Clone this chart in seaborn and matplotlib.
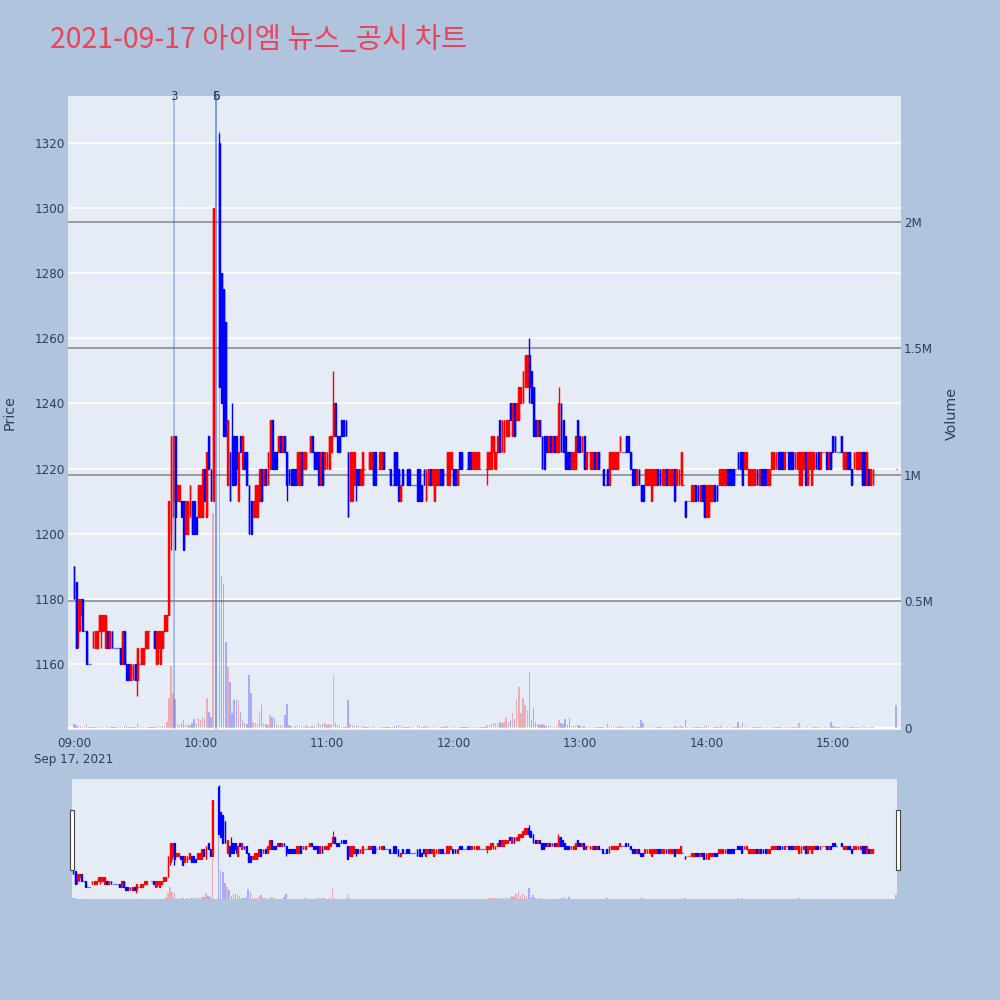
import numpy as np
import pandas as pd
import matplotlib
matplotlib.use("Agg")
import matplotlib.pyplot as plt
from matplotlib.patches import Rectangle
import seaborn as sns

# ---------------- data ----------------
title_text = "2021-09-17 아이엠 뉴스_공시 차트"

# minutes after 09:00 (10:07-10:08 halted, 15:20-15:29 closing auction)
minutes = list(range(0, 67)) + list(range(69, 380)) + [390]

opens = [
    1190,1185,1170,1175,1180,1170,1170,1160,1160,1165,
    1165,1165,1170,1170,1170,1165,1170,1165,1170,1165,
    1165,1165,1165,1160,1170,1160,1160,1155,1155,1160,
    1155,1160,1160,1160,1165,1165,1170,1170,1170,1160,
    1165,1160,1165,1170,1170,1175,1200,1210,1230,1210,
    1210,1210,1210,1200,1200,1205,1210,1210,1205,1205,
    1205,1205,1220,1205,1230,1220,1210,
    1320,1280,1275,1265,1215,1225,1230,1230,1230,1210,
    1230,1220,1225,1225,1215,1210,1205,1205,1205,1210,
    1220,1215,1220,1215,1220,1235,1225,1225,1225,1230,
    1225,1230,1225,1220,1220,1220,1220,1215,1215,1225,
    1220,1220,1225,1225,1230,1225,1225,1225,1215,1225,
    1220,1220,1220,1225,1230,1240,1230,1230,1235,1235,
    1235,1225,1210,1210,1215,1220,1220,1215,1215,1220,
    1220,1220,1220,1225,1225,1220,1220,1220,1225,1220,
    1220,1220,1215,1225,1225,1220,1210,1220,1215,1220,
    1220,1215,1215,1215,1220,1220,1215,1220,1210,1215,
    1220,1215,1210,1215,1215,1220,1220,1215,1215,1215,
    1220,1220,1220,1215,1225,1225,1220,1220,1225,1225,
    1220,1220,1220,1220,1220,1220,1220,1220,1220,1220,
    1225,1220,1225,1235,1225,1225,1230,1230,1240,1230,
    1240,1235,1235,1240,1240,1245,1245,1255,1250,1245,
    1235,1230,1235,1230,1230,1230,1225,1230,1225,1230,
    1225,1225,1240,1235,1230,1225,1225,1220,1220,1220,
    1235,1230,1225,1230,1220,1225,1220,1220,1225,1220,
    1225,1220,1220,1215,1220,1215,1220,1220,1220,1220,
    1225,1225,1225,1230,1230,1225,1220,1220,1215,1220,
    1215,1215,1215,1215,1215,1210,1215,1215,1220,1220,
    1215,1215,1220,1215,1215,1215,1220,1215,1215,1215,
    1215,1210,1210,1210,1210,1210,1215,1215,1210,1215,
    1215,1205,1205,1210,1210,1215,1215,1215,1215,1215,
    1215,1220,1220,1220,1220,1220,1225,1225,1225,1220,
    1220,1215,1215,1215,1215,1220,1215,1220,1220,1220,
    1215,1215,1220,1220,1220,1225,1225,1225,1220,1225,
    1225,1225,1225,1220,1220,1215,1215,1220,1225,1215,
    1220,1215,1220,1225,1225,1220,1225,1225,1225,1220,
    1225,1230,1230,1225,1225,1230,1220,1220,1225,1225,
    1220,1220,1220,1220,1220,1225,1225,1215,1220,1215,
    1215,
    1220,
]

highs = [
    1190,1185,1180,1180,1180,1170,1170,1160,1160,1170,
    1170,1170,1175,1175,1175,1175,1170,1170,1170,1165,
    1165,1165,1165,1170,1170,1160,1160,1160,1160,1160,
    1165,1160,1165,1165,1170,1170,1170,1170,1170,1170,
    1170,1170,1170,1175,1175,1210,1230,1230,1230,1215,
    1215,1210,1210,1210,1210,1215,1210,1210,1205,1215,
    1215,1220,1220,1225,1230,1220,1300,
    1323,1280,1275,1265,1235,1225,1240,1230,1230,1225,
    1230,1230,1225,1225,1215,1210,1210,1215,1215,1220,
    1220,1220,1220,1225,1235,1235,1225,1225,1230,1230,
    1230,1230,1225,1220,1220,1220,1220,1225,1225,1225,
    1225,1225,1225,1230,1230,1225,1225,1225,1225,1225,
    1225,1225,1230,1230,1250,1240,1230,1230,1235,1235,
    1235,1225,1225,1225,1225,1220,1220,1220,1225,1220,
    1220,1225,1225,1225,1225,1220,1225,1225,1225,1220,
    1220,1220,1215,1225,1225,1220,1215,1220,1215,1220,
    1220,1215,1215,1215,1220,1220,1215,1220,1220,1220,
    1220,1220,1220,1220,1220,1220,1220,1215,1225,1225,
    1225,1220,1220,1220,1225,1225,1220,1220,1225,1225,
    1225,1225,1225,1225,1220,1220,1220,1225,1225,1230,
    1230,1225,1230,1235,1235,1235,1235,1235,1240,1240,
    1240,1240,1245,1245,1250,1255,1255,1260,1250,1245,
    1235,1235,1235,1230,1230,1230,1230,1230,1230,1230,
    1230,1245,1240,1235,1230,1225,1225,1225,1225,1230,
    1235,1230,1230,1230,1225,1225,1225,1225,1225,1225,
    1225,1220,1220,1215,1220,1225,1225,1225,1225,1225,
    1230,1225,1225,1230,1230,1225,1220,1220,1220,1220,
    1215,1215,1220,1220,1220,1220,1220,1220,1220,1220,
    1220,1220,1220,1220,1220,1220,1220,1220,1220,1225,
    1215,1210,1210,1210,1215,1215,1215,1215,1215,1215,
    1215,1215,1215,1215,1215,1215,1215,1220,1220,1220,
    1220,1220,1220,1220,1220,1220,1225,1225,1225,1225,
    1225,1220,1220,1220,1220,1220,1220,1220,1220,1220,
    1220,1220,1225,1225,1225,1225,1225,1225,1225,1225,
    1225,1225,1225,1225,1225,1225,1225,1225,1225,1225,
    1225,1225,1225,1225,1225,1225,1225,1225,1225,1225,
    1225,1230,1230,1225,1225,1230,1225,1225,1225,1225,
    1220,1225,1225,1225,1225,1225,1225,1225,1220,1220,
    1220,
    1220,
]

lows = [
    1180,1165,1165,1170,1170,1170,1160,1160,1160,1165,
    1165,1165,1170,1165,1170,1165,1165,1165,1165,1165,
    1165,1165,1160,1160,1160,1155,1155,1155,1155,1155,
    1150,1160,1160,1160,1165,1165,1170,1170,1165,1160,
    1160,1160,1165,1170,1170,1175,1195,1205,1195,1210,
    1210,1205,1195,1200,1200,1205,1200,1200,1200,1205,
    1205,1205,1210,1205,1220,1210,1210,
    1245,1240,1230,1230,1215,1210,1215,1215,1215,1210,
    1225,1220,1220,1215,1200,1200,1205,1205,1205,1210,
    1210,1215,1215,1215,1220,1220,1220,1220,1225,1225,
    1225,1225,1210,1215,1215,1215,1215,1215,1215,1215,
    1220,1220,1225,1225,1225,1220,1220,1215,1215,1215,
    1220,1220,1220,1225,1230,1230,1225,1225,1230,1230,
    1230,1205,1210,1210,1215,1210,1215,1215,1215,1220,
    1220,1220,1220,1215,1215,1220,1220,1220,1220,1220,
    1220,1215,1215,1215,1215,1210,1210,1215,1215,1215,
    1215,1215,1215,1215,1210,1210,1210,1215,1210,1215,
    1215,1215,1210,1215,1215,1215,1215,1215,1215,1215,
    1220,1215,1215,1215,1220,1220,1220,1220,1220,1220,
    1220,1220,1220,1220,1220,1220,1220,1215,1220,1220,
    1220,1220,1225,1225,1225,1225,1230,1230,1235,1230,
    1230,1235,1235,1240,1240,1245,1245,1240,1240,1230,
    1230,1230,1230,1220,1220,1225,1225,1225,1225,1225,
    1225,1225,1225,1225,1220,1220,1220,1220,1220,1220,
    1225,1225,1225,1220,1220,1225,1220,1220,1220,1220,
    1220,1220,1215,1215,1215,1215,1220,1220,1220,1220,
    1225,1225,1225,1225,1225,1220,1215,1215,1215,1215,
    1210,1210,1215,1215,1215,1210,1215,1215,1215,1215,
    1215,1215,1215,1215,1215,1215,1210,1215,1215,1215,
    1215,1205,1210,1210,1210,1210,1210,1210,1210,1210,
    1205,1205,1205,1210,1210,1210,1210,1215,1215,1215,
    1215,1215,1215,1215,1215,1220,1220,1220,1215,1220,
    1220,1215,1215,1215,1215,1215,1215,1215,1215,1215,
    1215,1215,1220,1220,1220,1220,1220,1220,1220,1225,
    1220,1220,1220,1220,1220,1215,1215,1220,1215,1215,
    1220,1215,1220,1220,1220,1220,1225,1225,1220,1220,
    1220,1225,1225,1225,1225,1225,1220,1220,1220,1220,
    1215,1220,1220,1220,1220,1215,1215,1215,1215,1215,
    1215,
    1220,
]

closes = [
    1180,1165,1180,1180,1170,1170,1160,1160,1160,1170,
    1170,1170,1175,1175,1175,1175,1165,1170,1165,1165,
    1165,1165,1160,1170,1160,1155,1155,1160,1160,1155,
    1165,1160,1165,1165,1170,1170,1170,1170,1165,1170,
    1170,1170,1170,1175,1175,1210,1230,1230,1205,1215,
    1215,1205,1195,1210,1210,1215,1200,1200,1200,1215,
    1215,1220,1210,1225,1220,1210,1300,
    1245,1240,1230,1230,1235,1210,1215,1215,1220,1225,
    1225,1230,1220,1215,1200,1200,1210,1215,1215,1220,
    1210,1220,1215,1225,1235,1220,1220,1220,1230,1225,
    1230,1225,1215,1215,1215,1215,1215,1225,1225,1215,
    1225,1225,1225,1230,1225,1220,1220,1215,1225,1215,
    1225,1225,1230,1230,1240,1230,1225,1225,1230,1230,
    1230,1205,1225,1225,1225,1215,1215,1220,1225,1220,
    1220,1225,1225,1215,1215,1220,1225,1225,1220,1220,
    1220,1215,1215,1215,1215,1210,1215,1215,1215,1215,
    1215,1215,1215,1215,1210,1210,1210,1215,1220,1220,
    1215,1220,1220,1220,1220,1215,1215,1215,1225,1225,
    1225,1215,1215,1220,1220,1220,1220,1220,1220,1220,
    1225,1225,1225,1225,1220,1220,1220,1225,1225,1230,
    1230,1225,1230,1225,1235,1235,1235,1235,1235,1240,
    1230,1240,1245,1245,1250,1255,1255,1245,1240,1230,
    1230,1235,1230,1220,1220,1225,1230,1225,1230,1225,
    1230,1240,1225,1225,1220,1220,1220,1225,1225,1230,
    1225,1225,1230,1220,1225,1225,1225,1225,1220,1225,
    1220,1220,1215,1215,1215,1225,1225,1225,1225,1225,
    1230,1225,1225,1225,1225,1220,1215,1215,1220,1215,
    1210,1210,1220,1220,1220,1220,1220,1220,1215,1215,
    1220,1220,1215,1220,1220,1220,1210,1220,1220,1225,
    1215,1205,1210,1210,1215,1215,1210,1210,1215,1210,
    1205,1215,1215,1215,1215,1210,1210,1220,1220,1220,
    1220,1215,1215,1215,1215,1220,1220,1220,1215,1225,
    1225,1220,1220,1220,1220,1215,1220,1215,1215,1215,
    1220,1220,1225,1225,1225,1220,1220,1220,1225,1225,
    1220,1220,1220,1225,1225,1225,1225,1225,1215,1225,
    1225,1225,1225,1220,1220,1225,1225,1225,1220,1225,
    1220,1225,1225,1225,1225,1225,1225,1225,1220,1220,
    1215,1225,1225,1225,1225,1215,1215,1225,1215,1220,
    1220,
    1220,
]

# volume in thousands of shares
volumes_k = [
    15,12,8,6,5,3,15,4,3,4,
    3,3,6,5,3,4,6,5,3,2,
    2,2,5,4,6,8,5,4,3,4,
    20,2,5,4,5,3,2,2,4,5,
    6,5,6,8,25,120,245,140,115,15,
    10,20,30,10,12,10,20,35,15,40,
    30,45,35,120,65,45,850,
    2360,600,570,340,240,180,60,110,110,105,
    65,30,20,15,210,140,25,20,15,60,
    90,20,15,10,50,45,40,10,8,10,
    8,50,95,10,8,5,6,10,8,6,
    5,12,4,5,6,8,5,20,10,15,
    20,10,15,12,210,20,10,8,5,5,
    4,110,15,10,8,10,6,5,8,3,
    2,5,4,6,5,2,5,4,4,2,
    2,5,2,8,6,10,8,5,2,4,
    3,2,2,1,6,8,4,5,6,4,
    5,4,6,4,3,5,4,2,6,5,
    5,4,3,5,4,4,2,2,4,3,
    4,3,5,4,2,2,2,10,12,15,
    20,18,15,25,20,25,40,25,30,60,
    35,110,160,60,120,90,70,220,30,80,
    25,15,12,15,10,8,10,6,5,5,
    6,30,20,15,35,10,40,8,6,8,
    10,6,5,8,5,2,4,5,4,4,
    3,2,4,2,15,6,5,6,5,4,
    6,3,2,5,4,5,6,5,4,4,
    30,20,5,5,4,6,4,4,4,3,
    5,4,4,4,3,4,8,4,5,6,
    2,30,3,2,5,4,4,3,5,4,
    8,10,8,5,4,5,4,5,6,4,
    5,5,4,4,3,2,25,5,20,6,
    5,5,4,4,5,4,4,3,4,3,
    4,4,5,4,5,4,4,3,4,2,
    5,4,4,5,4,20,6,5,5,6,
    5,5,4,4,3,4,2,2,4,4,
    25,6,5,2,2,5,5,4,4,3,
    3,5,4,5,4,6,5,5,4,5,
    4,
    90,
]

price_ticks = [1160, 1180, 1200, 1220, 1240, 1260, 1280, 1300, 1320]
volume_ticks = [0, 500000, 1000000, 1500000, 2000000]
volume_tick_labels = ["0", "0.5M", "1M", "1.5M", "2M"]
time_ticks = [0, 60, 120, 180, 240, 300, 360]
time_tick_labels = ["09:00\nSep 17, 2021", "10:00", "11:00", "12:00", "13:00", "14:00", "15:00"]
news_times = ["09:47:25", "10:07:25", "10:07:25"]
news_labels = ["3", "6", "5"]

assert len(minutes) == len(opens) == len(highs) == len(lows) == len(closes) == len(volumes_k)

# ---------------- style ----------------
BG = "#B0C4DE"
PLOT_BG = "#E5ECF6"
TXT = "#2A3F5F"
UP = "#FF0000"
DOWN = "#0000FF"

sns.set_theme(style="darkgrid", rc={
    "axes.facecolor": PLOT_BG,
    "figure.facecolor": BG,
    "grid.color": "white",
})
plt.rcParams["font.family"] = ["DejaVu Sans", "Noto Sans CJK KR"]

df = pd.DataFrame({"m": minutes, "o": opens, "h": highs, "l": lows,
                   "c": closes, "v": np.array(volumes_k) * 1000})

# plotly-like direction rule for candles
inc = []
state = True
prev_c = None
for o, c in zip(df["o"], df["c"]):
    if c > o:
        state = True
    elif c < o:
        state = False
    elif prev_c is not None and c != prev_c:
        state = c > prev_c
    inc.append(state)
    prev_c = c
df["inc"] = inc
df["col"] = np.where(df["inc"], UP, DOWN)
df["vcol"] = np.where(df["c"] > df["o"], UP, DOWN)


def tmin(s):
    hh, mm, ss = [int(p) for p in s.split(":")]
    return (hh - 9) * 60 + mm + ss / 60.0


def draw_candles(ax, body_w, lw_body, lw_wick):
    ax.vlines(df["m"], df["l"], df["h"], colors=df["col"], linewidth=lw_wick, zorder=3)
    bottom = np.minimum(df["o"], df["c"])
    height = np.abs(df["c"] - df["o"])
    ax.bar(df["m"], height, bottom=bottom, width=body_w, color=df["col"],
           edgecolor=df["col"], linewidth=lw_body, zorder=4)


def draw_volume(ax, w):
    ax.bar(df["m"], df["v"], width=w, color=df["vcol"], alpha=0.27, linewidth=0, zorder=2)


fig = plt.figure(figsize=(10, 10), dpi=100)

XLIM = (-2.85, 392.3)
PLIM = (1139.7, 1334.4)
VLIM = (-8000, 2498000)

# background axes: carries price grid + ticks
ax_bg = fig.add_axes([0.068, 0.270, 0.833, 0.634])
ax_bg.set_xlim(*XLIM)
ax_bg.set_ylim(*PLIM)
ax_bg.set_yticks(price_ticks)
ax_bg.set_xticks(time_ticks)
ax_bg.set_xticklabels(time_tick_labels, linespacing=1.35)
ax_bg.grid(axis="y", color="white", linewidth=1.1)
ax_bg.grid(axis="x", visible=False)
ax_bg.tick_params(axis="both", length=0, labelsize=8.6, colors=TXT)
ax_bg.tick_params(axis="y", pad=2)
ax_bg.tick_params(axis="x", pad=5)
for s in ax_bg.spines.values():
    s.set_visible(False)

# volume axis (right)
ax_vol = ax_bg.twinx()
ax_vol.set_ylim(*VLIM)
ax_vol.set_yticks(volume_ticks)
ax_vol.set_yticklabels(volume_tick_labels)
ax_vol.grid(axis="y", color="#9A9A9A", linewidth=1.4)
ax_vol.grid(axis="x", visible=False)
ax_vol.tick_params(axis="y", length=0, labelsize=8.6, colors=TXT, pad=2)
for s in ax_vol.spines.values():
    s.set_visible(False)
draw_volume(ax_vol, 0.7)
ax_vol.axhline(0, color="white", linewidth=1.6, zorder=1)

# price candles on top
ax_pr = ax_bg.twinx()
ax_pr.set_ylim(*PLIM)
ax_pr.set_xlim(*XLIM)
ax_pr.set_yticks([])
ax_pr.grid(False)
for s in ax_pr.spines.values():
    s.set_visible(False)
draw_candles(ax_pr, 0.42, 1.0, 1.0)

# news markers
for t, lab in zip(news_times, news_labels):
    x = tmin(t)
    ax_pr.axvline(x, ymin=0.003, ymax=1.0, color=(0.25, 0.42, 0.95), alpha=0.42,
                  linewidth=1.3, zorder=5)
    ax_pr.text(x, PLIM[1], lab, ha="center", va="center", fontsize=8.6, color=TXT,
               zorder=6, clip_on=False)

# axis titles and main title
fig.text(0.010, 0.587, "Price", rotation=90, ha="center", va="center", fontsize=10.3, color=TXT)
fig.text(0.952, 0.587, "Volume", rotation=90, ha="center", va="center", fontsize=10.3, color=TXT)
fig.text(0.050, 0.960, title_text, ha="left", va="center", fontsize=20.5, color="#E8445A",
         family=["Noto Sans CJK KR", "DejaVu Sans"])

# ---------------- range slider ----------------
ax_sb = fig.add_axes([0.072, 0.101, 0.825, 0.120])
ax_sb.set_facecolor(PLOT_BG)
ax_sb.set_xlim(-0.5, 390.5)
ax_sb.set_ylim(1140.5, 1333)
ax_sb.set_xticks([])
ax_sb.set_yticks([])
ax_sb.grid(False)
for s in ax_sb.spines.values():
    s.set_visible(False)
ax_sbv = ax_sb.twinx()
ax_sbv.set_ylim(0, 2498000)
ax_sbv.set_yticks([])
ax_sbv.grid(False)
for s in ax_sbv.spines.values():
    s.set_visible(False)
draw_volume(ax_sbv, 0.7)
ax_sbp = ax_sb.twinx()
ax_sbp.set_ylim(1140.5, 1333)
ax_sbp.set_yticks([])
ax_sbp.grid(False)
for s in ax_sbp.spines.values():
    s.set_visible(False)
draw_candles(ax_sbp, 0.42, 0.9, 0.9)

# slider grab handles
for xh in (0.0695, 0.8955):
    fig.patches.append(Rectangle((xh, 0.130), 0.004, 0.060, transform=fig.transFigure,
                                 facecolor="white", edgecolor="#444444", linewidth=0.8,
                                 zorder=10))

fig.savefig("out.png", dpi=100, facecolor=BG)
